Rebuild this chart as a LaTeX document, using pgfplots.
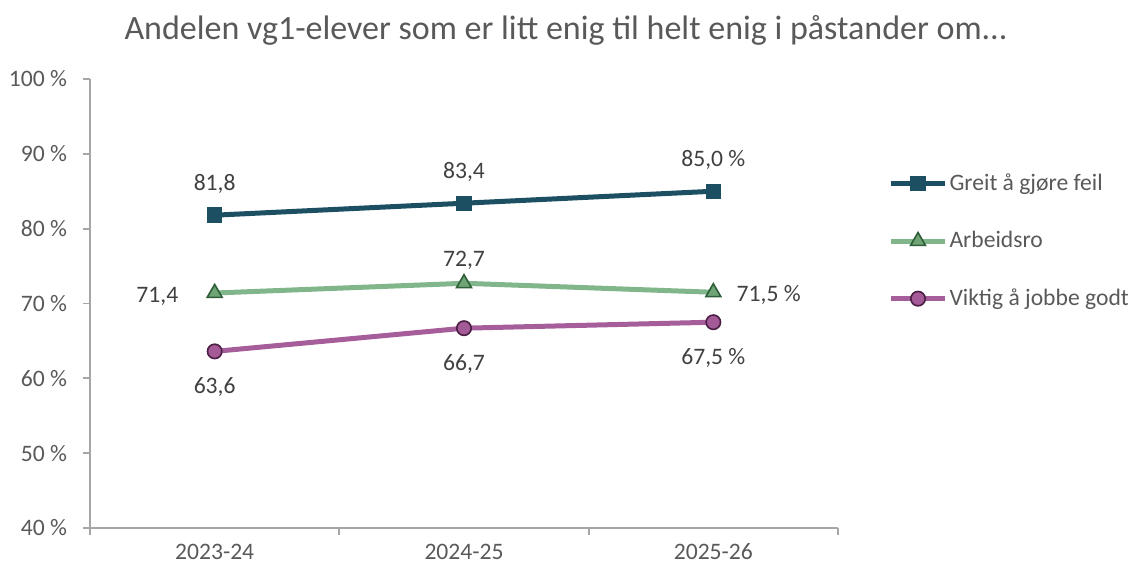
\documentclass[border=0pt]{standalone}
\usepackage{fontspec}
\setmainfont{Carlito}
\usepackage{pgfplots}
\pgfplotsset{compat=1.18}

\definecolor{axgray}{HTML}{A6A6A6}
\definecolor{txtgray}{HTML}{595959}
\definecolor{lblgray}{HTML}{404040}
\definecolor{teal}{HTML}{1D4F62}
\definecolor{grline}{HTML}{80B68A}
\definecolor{grfill}{HTML}{6FA576}
\definecolor{gredge}{HTML}{2F5F38}
\definecolor{puline}{HTML}{A65E9A}
\definecolor{pufill}{HTML}{A35A96}
\definecolor{puedge}{HTML}{4B1E44}

\newcommand\lblfont{\fontsize{11.8}{14}\selectfont}

\pgfplotsset{
  % label-only plot: no line, no marks, just the data labels
  lbl/.style 2 args={draw=none, mark=none, forget plot,
    point meta=explicit symbolic, nodes near coords,
    every node near coord/.append style={anchor=#1, xshift=0pt, yshift=#2,
        inner sep=0pt, font=\lblfont, text=lblgray}},
}

\begin{document}
\begin{tikzpicture}
\useasboundingbox (-45pt,-19pt) rectangle (519.5pt,264pt);
\begin{axis}[
    at={(0,0)}, anchor=south west,
    scale only axis,
    width=374pt, height=224.5pt,
    xmin=-0.5, xmax=2.5,
    ymin=40, ymax=100,
    xtick={0,1,2},
    xticklabels={2023-24,2024-25,2025-26},
    minor xtick={-0.5,0.5,1.5,2.5},
    ytick={40,50,...,100},
    yticklabel={\pgfmathprintnumber{\tick} \%},
    /pgf/number format/assume math mode=true,
    axis lines*=left,
    axis line style={draw=axgray, line width=0.9pt},
    tick align=outside,
    major tick length=3.5pt,
    minor tick length=3.5pt,
    every tick/.style={draw=axgray, line width=0.9pt},
    major x tick style={draw=none},
    ticklabel style={font=\lblfont, text=txtgray},
    yticklabel style={xshift=-4.5pt},
    xticklabel style={yshift=-1pt},
    clip=false,
    legend style={at={(1.067,0.79)}, anchor=north west, draw=none, fill=none,
        inner sep=0pt, row sep=19pt, font=\lblfont, text=txtgray,
        nodes={inner xsep=1pt, inner ysep=0pt}},
    legend cell align=left,
    legend image code/.code={\draw[#1, mark repeat=2, mark phase=2]
        plot coordinates {(0pt,0pt) (13.5pt,0pt) (27pt,0pt)};},
]
\addplot[teal, line width=2.5pt, mark=square*,
    mark options={solid, fill=teal, draw=teal, line width=0.5pt}, mark size=3.6pt]
    coordinates {(0,81.8) (1,83.4) (2,85.0)};
\addlegendentry{Greit å gjøre feil}
\addplot[grline, line width=2.5pt, mark=triangle*,
    mark options={solid, fill=grfill, draw=gredge, line width=0.8pt}, mark size=4.3pt]
    coordinates {(0,71.4) (1,72.7) (2,71.5)};
\addlegendentry{Arbeidsro}
\addplot[puline, line width=2.5pt, mark=*,
    mark options={solid, fill=pufill, draw=puedge, line width=0.8pt}, mark size=3.6pt]
    coordinates {(0,63.6) (1,66.7) (2,67.5)};
\addlegendentry{Viktig å jobbe godt}

% data labels
\addplot[lbl={base}{12.5pt}] coordinates {(0,81.8) [81,8] (1,83.4) [83,4] (2,85.0) [85,0 \%]};
\addplot[lbl={base}{8.5pt}] coordinates {(1,72.7) [72,7]};
\addplot[lbl={base east}{-4.5pt}, every node near coord/.append style={xshift=-18pt}]
    coordinates {(0,71.4) [71,4]};
\addplot[lbl={base west}{-4.5pt}, every node near coord/.append style={xshift=11.5pt}]
    coordinates {(2,71.5) [71,5 \%]};
\addplot[lbl={base}{-21pt}] coordinates {(0,63.6) [63,6] (1,66.7) [66,7] (2,67.5) [67,5 \%]};
\end{axis}
\node[anchor=base, font=\fontsize{17}{20}\selectfont, text=txtgray]
    at (238pt,244pt) {Andelen vg1-elever som er litt enig til helt enig i påstander om...};
\end{tikzpicture}
\end{document}
